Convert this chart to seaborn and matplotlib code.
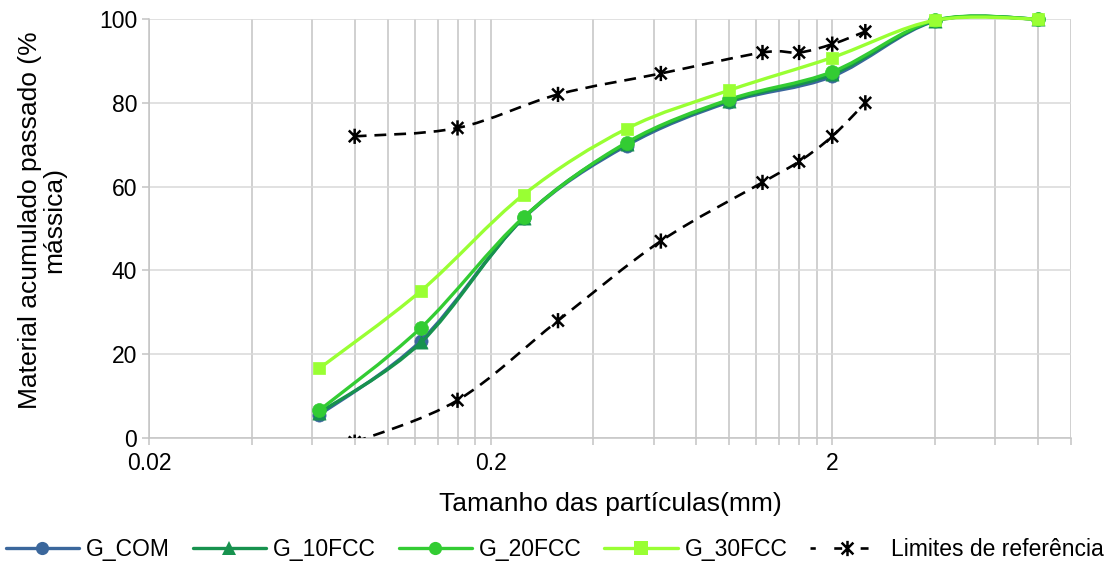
import numpy as np
import matplotlib
matplotlib.use("Agg")
import matplotlib.pyplot as plt
import seaborn as sns
from matplotlib.path import Path
from matplotlib.patches import PathPatch
from matplotlib.lines import Line2D
from matplotlib.ticker import FixedLocator, NullFormatter, FixedFormatter

# sieve sizes (mm) and cumulative passing (%)
sizes = [0.063, 0.125, 0.25, 0.5, 1, 2, 4, 8]
g_com = [5.5, 23.2, 52.5, 69.8, 80.2, 86.3, 99.5, 100]
g_10fcc = [6.0, 22.8, 52.6, 70.2, 80.5, 86.8, 99.6, 100]
g_20fcc = [6.6, 26.3, 52.7, 70.5, 80.8, 87.4, 99.7, 100]
g_30fcc = [16.6, 35.1, 58.1, 73.8, 83.0, 90.8, 99.7, 100]

# reference limits
lim_sizes = [0.08, 0.16, 0.315, 0.63, 1.25, 1.6, 2, 2.5]
lim_upper = [72, 74, 82, 87, 92, 92, 94, 97]
lim_lower = [-1, 9, 28, 47, 61, 66, 72, 80]

series_names = ["G_COM", "G_10FCC", "G_20FCC", "G_30FCC"]
series_vals = [g_com, g_10fcc, g_20fcc, g_30fcc]
colors = ["#3B679C", "#17924E", "#33CC33", "#99FF33"]
markers = ["o", "^", "o", "s"]
msizes = [90, 90, 100, 80]
ref_label = "Limites de referência"

sns.set_style("white")
plt.rcParams["font.family"] = ["Liberation Sans", "DejaVu Sans"]
plt.rcParams["font.size"] = 16.5
plt.rcParams["text.color"] = "black"
plt.rcParams["axes.labelcolor"] = "black"
plt.rcParams["xtick.labelcolor"] = "black"
plt.rcParams["ytick.labelcolor"] = "black"

# excel-like star marker: X plus vertical bar
star = Path([(-1, -1), (1, 1), (-1, 1), (1, -1), (0, -1.3), (0, 1.3)],
            [Path.MOVETO, Path.LINETO, Path.MOVETO, Path.LINETO, Path.MOVETO, Path.LINETO])


def smooth_path(xs, ys):
    # bezier through the points in log-x space, like excel's smoothed line
    pts = np.column_stack([np.log10(xs), ys])
    n = len(pts)
    verts = [pts[0]]
    codes = [Path.MOVETO]
    for i in range(n - 1):
        p0 = pts[max(i - 1, 0)]
        p1 = pts[i]
        p2 = pts[i + 1]
        p3 = pts[min(i + 2, n - 1)]
        verts += [p1 + (p2 - p0) / 6, p2 - (p3 - p1) / 6, p2]
        codes += [Path.CURVE4] * 3
    verts = np.array(verts)
    verts[:, 0] = 10 ** verts[:, 0]
    return Path(verts, codes)


fig = plt.figure(figsize=(11.09, 5.65), dpi=100)
ax = fig.add_axes([149 / 1109, 127 / 565, 922 / 1109, 419 / 565])
ax.set_xscale("log")
ax.set_xlim(0.02, 10)
ax.set_ylim(0, 100)

for i, (name, vals) in enumerate(zip(series_names, series_vals)):
    ax.add_patch(PathPatch(smooth_path(sizes, vals), fill=False, edgecolor=colors[i],
                           lw=2.4, zorder=3 + 2 * i, clip_on=False, capstyle="round"))
    sns.scatterplot(x=sizes, y=vals, marker=markers[i], s=msizes[i], color=colors[i],
                    edgecolor=colors[i], linewidth=0.5, ax=ax, zorder=4 + 2 * i, clip_on=False)

for vals in [lim_upper, lim_lower]:
    ax.add_patch(PathPatch(smooth_path(lim_sizes, vals), fill=False, edgecolor="black",
                           lw=1.9, linestyle=(0, (4.5, 3)), zorder=12))
    sns.scatterplot(x=lim_sizes, y=vals, marker=star, s=120, facecolor="none",
                    edgecolor="black", linewidth=1.8, ax=ax, zorder=13)

# ticks and grid like the excel log axis
major = [0.02, 0.2, 2]
minor = [k * m for m in major for k in range(2, 10) if k * m <= 10.0001]
ax.xaxis.set_major_locator(FixedLocator(major))
ax.xaxis.set_major_formatter(FixedFormatter(["0.02", "0.2", "2"]))
ax.xaxis.set_minor_locator(FixedLocator(minor))
ax.xaxis.set_minor_formatter(NullFormatter())
ax.set_yticks([0, 20, 40, 60, 80, 100])
ax.grid(True, axis="x", which="both", color="#C4C4C4", lw=1.1)
ax.grid(True, axis="y", which="major", color="#D9D9D9", lw=1.1)
ax.set_axisbelow(True)
for s in ["top", "right"]:
    ax.spines[s].set_visible(False)
for s in ["left", "bottom"]:
    ax.spines[s].set_color("#C4C4C4")
    ax.spines[s].set_linewidth(1.1)
ax.tick_params(axis="both", which="both", direction="out", length=5, width=1.1,
               color="#C4C4C4", labelsize=16.5, labelcolor="black", bottom=True, left=True)
ax.tick_params(axis="x", pad=5)

ax.set_xlabel("Tamanho das partículas(mm)", fontsize=19, color="black")
ax.xaxis.set_label_coords(0.5, -0.128)
ax.set_ylabel("Material acumulado passado (%\nmássica)", fontsize=19, linespacing=1.0,
              color="black")
ax.yaxis.set_label_coords(-0.09, 0.52)

handles = [Line2D([], [], color=colors[i], lw=2.4, marker=markers[i],
                  markersize=9.5, markeredgewidth=0) for i in range(4)]
handles.append(Line2D([], [], color="black", lw=1.9, ls=(1, (3, 7)), marker=star,
                      markersize=11, markeredgewidth=1.8))
fig.legend(handles, series_names + [ref_label], loc="center", bbox_to_anchor=(0.5, 0.028),
           ncol=5, frameon=False, handlelength=3.2, handletextpad=0.3, columnspacing=1.0,
           fontsize=16.5, labelcolor="black")

fig.savefig("out.png", dpi=100)
